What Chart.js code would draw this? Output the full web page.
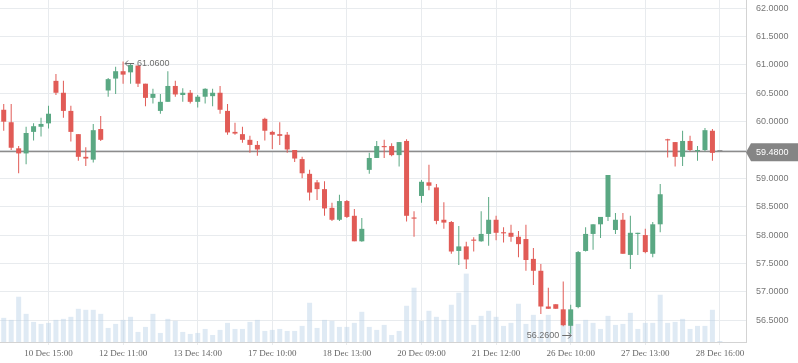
<!DOCTYPE html>
<html>
<head>
<meta charset="utf-8">
<script src="https://cdn.jsdelivr.net/npm/chart.js@4.4.1/dist/chart.umd.min.js"></script>
<style>
  html, body { margin: 0; padding: 0; background: #fff; }
  #wrap { width: 798px; height: 363px; }
</style>
</head>
<body>
<div id="wrap"><canvas id="price-chart" width="798" height="363"></canvas></div>
<script>
// ---- data ----
const tickLabels = ['10 Dec 15:00','12 Dec 11:00','13 Dec 14:00','17 Dec 10:00','18 Dec 13:00',
                    '20 Dec 09:00','21 Dec 12:00','26 Dec 10:00','27 Dec 13:00','28 Dec 16:00'];
const slotCount = 100;      // candle slots on the axis (last few are empty)
const firstTickSlot = 6;
const slotsPerTick = 10;

const open  = [60.21,59.99,59.53,59.44,59.82,59.91,59.97,60.72,60.51,60.19,
               59.78,59.38,59.33,59.87,60.55,60.76,60.89,60.87,60.99,60.67,
               60.42,60.19,60.35,60.63,60.47,60.51,60.35,60.44,60.45,60.51,
               60.19,59.82,59.78,59.68,59.59,60.05,59.82,59.78,59.77,59.50,
               59.34,59.08,58.93,58.81,58.48,58.27,58.60,58.34,57.89,59.15,
               59.36,59.57,59.57,59.41,59.66,58.31,58.69,58.93,58.84,58.27,
               58.23,57.72,57.80,57.92,57.89,58.02,58.27,58.05,58.04,57.97,
               57.93,57.58,57.37,56.74,56.78,56.69,56.40,56.73,57.72,58.02,
               58.19,58.32,58.09,58.27,57.65,58.02,58.00,57.67,58.19,59.69,
               59.64,59.38,59.66,59.48,59.50,59.84,59.48];
const high  = [60.31,60.31,59.57,59.91,59.97,60.07,60.28,60.84,60.72,60.28,
               59.78,59.55,59.96,60.10,60.77,60.97,61.06,61.03,60.99,60.67,
               60.58,60.49,60.89,60.72,60.59,60.56,60.47,60.59,60.58,60.63,
               60.31,59.98,59.91,59.75,59.66,60.07,59.84,59.99,59.82,59.50,
               59.38,59.15,58.97,58.95,58.57,58.71,58.62,58.46,58.30,59.45,
               59.66,59.68,59.62,59.64,59.69,58.42,58.97,59.24,58.90,58.58,
               58.25,58.16,57.88,57.96,58.42,58.67,58.34,58.14,58.18,58.07,
               58.18,57.77,57.49,57.07,56.78,57.18,56.77,57.72,58.14,58.19,
               58.32,59.06,58.39,58.39,58.34,58.04,58.11,58.23,58.90,59.70,
               59.64,59.84,59.75,59.57,59.89,59.87,59.48];
const low   = [59.84,59.50,59.09,59.25,59.67,59.74,59.88,60.47,60.07,59.65,
               59.31,59.22,59.28,59.66,60.44,60.49,60.67,60.67,60.61,60.27,
               60.32,60.14,60.35,60.44,60.35,60.32,60.25,60.32,60.27,60.14,
               59.77,59.77,59.63,59.45,59.40,59.67,59.52,59.59,59.45,59.29,
               59.00,58.61,58.62,58.34,58.25,58.25,58.30,57.89,57.88,59.08,
               59.36,59.36,59.39,59.21,58.24,57.97,58.57,58.79,58.19,58.11,
               57.67,57.47,57.40,57.71,57.88,57.81,57.91,57.87,57.88,57.61,
               57.37,57.12,56.61,56.70,56.70,56.39,56.26,56.71,57.71,57.74,
               57.95,58.25,58.02,57.67,57.40,57.65,57.68,57.61,58.05,59.37,
               59.21,59.22,59.48,59.31,59.48,59.31,59.48];
const close = [60.00,59.54,59.44,59.80,59.92,59.96,60.14,60.51,60.19,59.82,
               59.38,59.35,59.85,59.68,60.75,60.89,60.83,61.00,60.67,60.42,
               60.49,60.35,60.63,60.48,60.51,60.35,60.44,60.58,60.51,60.21,
               59.81,59.79,59.68,59.59,59.51,59.84,59.77,59.75,59.51,59.35,
               59.09,58.75,58.81,58.47,58.27,58.60,58.32,57.89,58.11,59.36,
               59.57,59.55,59.41,59.64,58.34,58.29,58.94,58.87,58.25,58.22,
               57.71,57.80,57.57,57.90,58.02,58.27,58.04,58.03,57.97,57.84,
               57.56,57.37,56.74,56.70,56.70,56.41,56.69,57.70,58.02,58.19,
               58.32,59.06,58.27,57.67,58.04,58.04,57.70,58.19,58.72,59.67,
               59.38,59.66,59.50,59.50,59.85,59.45,59.48];
const volume = [24,22,45,28,20,18,19,22,23,25,
                33,32,32,28,14,18,22,25,10,15,
                28, 9,23,21,10, 8, 9,13, 7,12,
                19,13,13,20,22,11,12,13,11,11,
                16,39,14,22,21,15,15,19,30,15,
                12,17, 7,11,36,54,21,31,25,22,
                37,49,68,17,26,31,25,16,19,38,
                18,27,22,27, 0,23,23,18,22,19,
                13,26,17,18,29,13,19,19,47,19,
                20,23,13,16,16,32, 1];

const priceMin = 56.114, priceMax = 62.146, priceStep = 0.5;

// ---- colours ----
const UP = '#5aa883', DOWN = '#e15b56', FLAT = '#8a8a8a';
const GRID = '#e8ebee', AXIS = '#d3d3d3';
const NOTE = '#6e6e6e';

const categories = Array.from({ length: slotCount }, (_, i) => {
    const k = i - firstTickSlot;
    return (k >= 0 && k % slotsPerTick === 0) ? (tickLabels[k / slotsPerTick] || '') : '';
});
const candleColors = close.map((c, i) => c > open[i] ? UP : (c < open[i] ? DOWN : FLAT));
const lastPrice = close[close.length - 1];

// small horizontal arrow, tip at (tipX, y), dir -1 = points left, +1 = points right
function arrow(ctx, tipX, y, dir) {
    const len = 9, head = 3;
    ctx.beginPath();
    ctx.moveTo(tipX - dir * len, y);
    ctx.lineTo(tipX, y);
    ctx.moveTo(tipX - dir * head, y - head);
    ctx.lineTo(tipX, y);
    ctx.lineTo(tipX - dir * head, y + head);
    ctx.stroke();
}

const overlay = {
    id: 'overlay',
    beforeDatasetsDraw(chart) {
        const { ctx, chartArea, scales } = chart;
        const y = Math.round(scales.y.getPixelForValue(lastPrice)) + 0.5;
        ctx.save();
        ctx.strokeStyle = '#8c8c8c';
        ctx.lineWidth = 1.5;
        ctx.beginPath();
        ctx.moveTo(chartArea.left, y);
        ctx.lineTo(chartArea.right, y);
        ctx.stroke();
        ctx.restore();
    },
    afterDatasetsDraw(chart) {
        const { ctx, scales } = chart;
        let iMax = 0, iMin = 0;
        high.forEach((v, i) => { if (v > high[iMax]) iMax = i; });
        low.forEach((v, i) => { if (v < low[iMin]) iMin = i; });
        const xMax = scales.x.getPixelForValue(iMax), yMax = Math.round(scales.y.getPixelForValue(high[iMax])) + 1.5;
        const xMin = scales.x.getPixelForValue(iMin), yMin = Math.round(scales.y.getPixelForValue(low[iMin])) + 1.5;
        ctx.save();
        ctx.font = '9px "Liberation Sans", Arial, sans-serif';
        ctx.fillStyle = NOTE;
        ctx.strokeStyle = NOTE;
        ctx.lineWidth = 1;
        ctx.textBaseline = 'middle';
        arrow(ctx, xMax + 2, yMax, -1);
        ctx.textAlign = 'left';
        ctx.fillText(high[iMax].toFixed(4), xMax + 14, yMax);
        arrow(ctx, xMin + 0.5, yMin, 1);
        ctx.textAlign = 'right';
        ctx.fillText(low[iMin].toFixed(4), xMin - 11.5, yMin);
        ctx.restore();
    },
    afterDraw(chart) {
        const { ctx, chartArea, scales } = chart;
        const y = scales.y.getPixelForValue(lastPrice) + 1;
        const x0 = chartArea.right, h = 18, r = 3, x1 = chart.width + 4;
        ctx.save();
        ctx.fillStyle = '#858585';
        ctx.beginPath();
        ctx.moveTo(x0, y);
        ctx.lineTo(x0 + 5, y - h / 2);
        ctx.lineTo(x1 - r, y - h / 2);
        ctx.quadraticCurveTo(x1, y - h / 2, x1, y - h / 2 + r);
        ctx.lineTo(x1, y + h / 2 - r);
        ctx.quadraticCurveTo(x1, y + h / 2, x1 - r, y + h / 2);
        ctx.lineTo(x0 + 5, y + h / 2);
        ctx.closePath();
        ctx.fill();
        ctx.fillStyle = '#ffffff';
        ctx.font = '9px "Liberation Sans", Arial, sans-serif';
        ctx.textAlign = 'left';
        ctx.textBaseline = 'middle';
        ctx.fillText(lastPrice.toFixed(4), x0 + 10, y);
        ctx.restore();
    }
};

new Chart(document.getElementById('price-chart').getContext('2d'), {
    type: 'bar',
    data: {
        labels: categories,
        datasets: [
            { label: 'body', data: open.map((o, i) => [o, close[i]]), backgroundColor: candleColors,
              barThickness: 5, minBarLength: 1, grouped: false, inflateAmount: 0, order: 1, yAxisID: 'y' },
            { label: 'wick', data: low.map((l, i) => [l, high[i]]), backgroundColor: candleColors,
              barThickness: 1, grouped: false, inflateAmount: 0, order: 2, yAxisID: 'y' },
            { label: 'volume', data: volume, backgroundColor: 'rgba(185,208,230,0.45)',
              barThickness: 5, grouped: false, inflateAmount: 0, order: 3, yAxisID: 'yv' }
        ]
    },
    options: {
        responsive: false,
        animation: false,
        devicePixelRatio: 1,
        layout: { padding: 0 },
        plugins: { legend: { display: false }, tooltip: { enabled: false } },
        scales: {
            x: {
                offset: true,
                grid: { offset: false, color: GRID, tickLength: 3 },
                border: { color: AXIS },
                ticks: { autoSkip: false, maxRotation: 0, padding: 3, color: '#666',
                         font: { family: '"Liberation Serif", "Times New Roman", serif', size: 9 } },
                afterBuildTicks: s => { s.ticks = s.ticks.filter(t => categories[t.value]); },
                afterFit: s => { s.height = 21; s.paddingLeft = 0; s.paddingRight = 0; }
            },
            y: {
                position: 'right',
                min: priceMin, max: priceMax,
                grid: { color: GRID, drawTicks: false },
                border: { color: AXIS },
                ticks: { padding: 10, color: '#777',
                         font: { family: '"Liberation Sans", Arial, sans-serif', size: 9 },
                         callback: v => Number(v).toFixed(4) },
                afterBuildTicks: s => {
                    const ticks = [];
                    for (let v = Math.ceil(priceMin / priceStep) * priceStep; v <= priceMax + 1e-9; v += priceStep) {
                        ticks.push({ value: Math.round(v * 1000) / 1000 });
                    }
                    s.ticks = ticks;
                },
                afterFit: s => { s.width = 52; s.paddingTop = 0; s.paddingBottom = 0; }
            },
            yv: { display: false, min: 0, max: Math.max(...volume) * 5 }
        }
    },
    plugins: [overlay]
});
</script>
</body>
</html>
